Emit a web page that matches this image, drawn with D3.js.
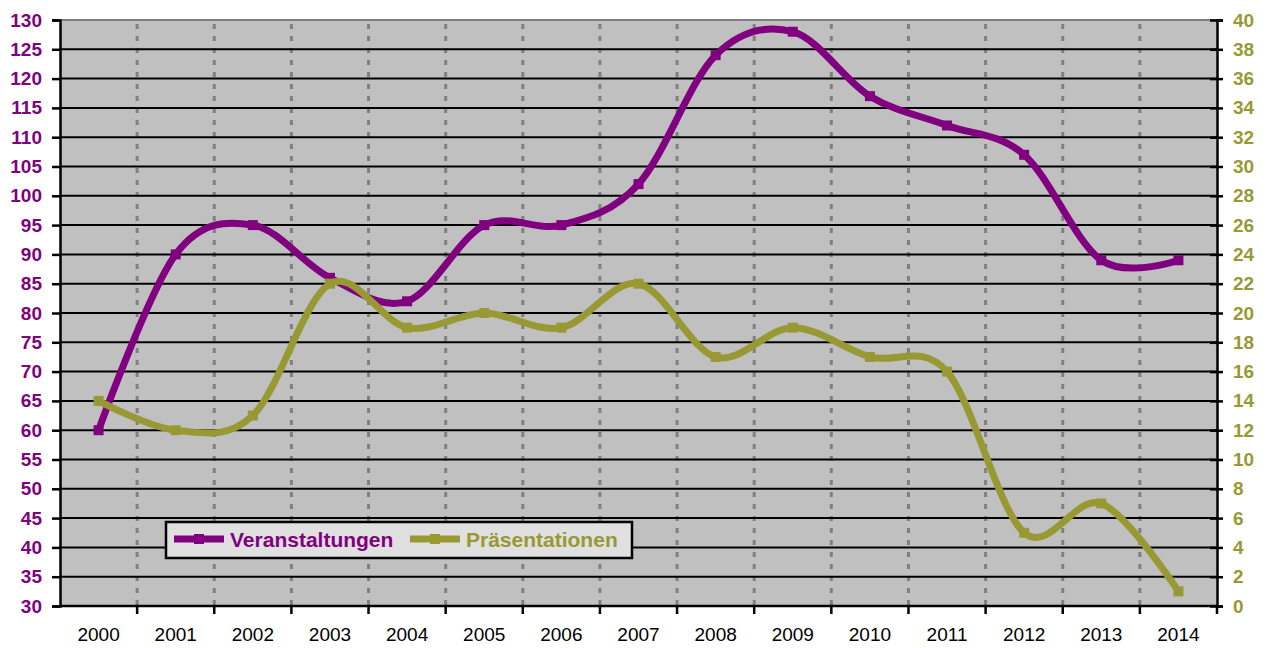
<!DOCTYPE html>
<html>
<head>
<meta charset="utf-8">
<script src="https://cdn.jsdelivr.net/npm/d3@7"></script>
<style>
  body { margin: 0; background: #fff; }
  svg { display: block; font-family: "Liberation Sans", Arial, sans-serif; }
</style>
</head>
<body>
<div id="chart"></div>
<script>
var years = ["2000","2001","2002","2003","2004","2005","2006","2007","2008","2009","2010","2011","2012","2013","2014"];
var veranstaltungen = [60, 90, 95, 86, 82, 95, 95, 102, 124, 128, 117, 112, 107, 89, 89];
var praesentationen = [14, 12, 13, 22, 19, 20, 19, 22, 17, 19, 17, 16, 5, 7, 1];
var leftTicks = d3.range(30, 131, 5);
var rightTicks = d3.range(0, 41, 2);

var W = 1268, H = 648;
var plot = {left: 60, right: 1217, top: 20, bottom: 606};
var purple = "#800080", olive = "#999933";

var svg = d3.select("#chart").append("svg")
    .attr("width", W).attr("height", H);

var x = d3.scaleBand().domain(years).range([plot.left, plot.right]);
var yL = d3.scaleLinear().domain([30, 130]).range([plot.bottom, plot.top]);
var yR = d3.scaleLinear().domain([0, 40]).range([plot.bottom, plot.top]);

// plot background
svg.append("rect")
    .attr("x", plot.left).attr("y", plot.top)
    .attr("width", plot.right - plot.left).attr("height", plot.bottom - plot.top)
    .attr("fill", "#c0c0c0");

// vertical dashed grid at category boundaries
svg.append("g").selectAll("line")
    .data(years.slice(1))
    .join("line")
    .attr("x1", function(d) { return x(d); })
    .attr("x2", function(d) { return x(d); })
    .attr("y1", plot.top + 4).attr("y2", plot.bottom)
    .attr("stroke", "#808080").attr("stroke-width", 3)
    .attr("stroke-dasharray", "5,7");

// horizontal grid
svg.append("g").selectAll("line")
    .data(leftTicks.slice(1, -1))
    .join("line")
    .attr("x1", plot.left).attr("x2", plot.right)
    .attr("y1", function(d) { return yL(d); })
    .attr("y2", function(d) { return yL(d); })
    .attr("stroke", "#000").attr("stroke-width", 2);

// top border
svg.append("line")
    .attr("x1", plot.left).attr("x2", plot.right)
    .attr("y1", plot.top).attr("y2", plot.top)
    .attr("stroke", "#808080").attr("stroke-width", 2);

// left axis
var gl = svg.append("g").attr("transform", "translate(" + plot.left + ",0)")
    .call(d3.axisLeft(yL).tickValues(leftTicks).tickSize(8).tickPadding(10));
gl.select(".domain").attr("stroke-width", 2.5);
gl.selectAll(".tick line").attr("stroke-width", 2.5);
gl.selectAll(".tick text")
    .attr("fill", purple).attr("font-size", 19).attr("font-weight", "bold")
    .attr("font-family", "Liberation Sans, Arial, sans-serif");

// right axis
var gr = svg.append("g").attr("transform", "translate(" + plot.right + ",0)")
    .call(d3.axisRight(yR).tickValues(rightTicks).tickSize(6).tickPadding(10));
gr.select(".domain").attr("stroke-width", 2.5);
gr.selectAll(".tick line").attr("stroke-width", 2.5).attr("x1", -7);
gr.selectAll(".tick text")
    .attr("fill", olive).attr("font-size", 19).attr("font-weight", "bold")
    .attr("font-family", "Liberation Sans, Arial, sans-serif");

// bottom axis
var gb = svg.append("g").attr("transform", "translate(0," + plot.bottom + ")")
    .call(d3.axisBottom(x).tickSize(0).tickPadding(22));
gb.select(".domain").attr("stroke-width", 2.5).attr("d", "M" + plot.left + ",0H" + plot.right);
gb.selectAll(".tick text")
    .attr("fill", "#000").attr("font-size", 19)
    .attr("font-family", "Liberation Sans, Arial, sans-serif");
gb.append("g").selectAll("line")
    .data(years.slice(1).concat(["end"]))
    .join("line")
    .attr("x1", function(d) { return d === "end" ? plot.right : x(d); })
    .attr("x2", function(d) { return d === "end" ? plot.right : x(d); })
    .attr("y1", 0).attr("y2", 8)
    .attr("stroke", "#000").attr("stroke-width", 2.5);

// series (purple first, olive drawn on top)
var cx = function(d, i) { return x(years[i]) + x.bandwidth() / 2; };
var series = [
    {name: "Veranstaltungen", values: veranstaltungen, y: yL, color: purple},
    {name: "Präsentationen", values: praesentationen, y: yR, color: olive}
];

series.forEach(function(s) {
    var line = d3.line()
        .x(cx)
        .y(function(d) { return s.y(d); })
        .curve(d3.curveCatmullRom.alpha(0));
    var g = svg.append("g");
    g.append("path")
        .datum(s.values)
        .attr("d", line)
        .attr("fill", "none")
        .attr("stroke", s.color)
        .attr("stroke-width", 7)
        .attr("stroke-linejoin", "round");
    g.selectAll("rect")
        .data(s.values)
        .join("rect")
        .attr("x", function(d, i) { return cx(d, i) - 5; })
        .attr("y", function(d) { return s.y(d) - 5; })
        .attr("width", 10).attr("height", 10)
        .attr("fill", s.color);
});

// legend
var lg = svg.append("g").attr("transform", "translate(166,522)");
lg.append("rect")
    .attr("width", 466).attr("height", 36)
    .attr("fill", "#e0e0e0").attr("stroke", "#000").attr("stroke-width", 2.5);
var legendX = [8, 244];
series.forEach(function(s, i) {
    var e = lg.append("g").attr("transform", "translate(" + legendX[i] + ",18)");
    e.append("line").attr("x1", 0).attr("x2", 50).attr("y1", -1).attr("y2", -1)
        .attr("stroke", s.color).attr("stroke-width", 7);
    e.append("rect").attr("x", 20).attr("y", -6).attr("width", 10).attr("height", 10)
        .attr("fill", s.color);
    e.append("text")
        .attr("x", 56).attr("y", 7)
        .attr("fill", s.color).attr("font-size", 21).attr("font-weight", "bold")
        .text(s.name);
});
</script>
</body>
</html>
